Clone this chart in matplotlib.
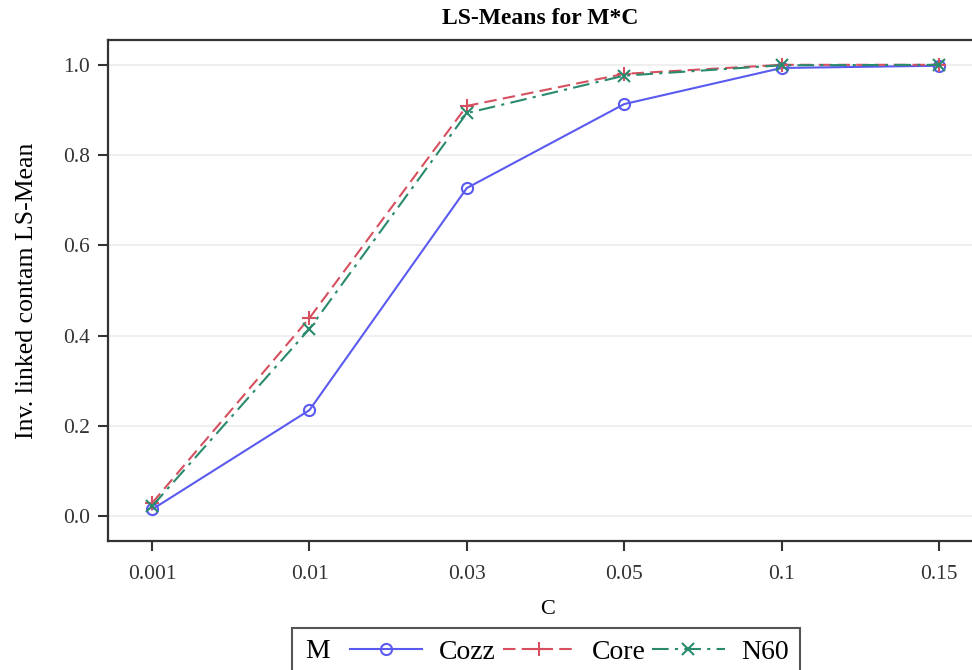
import numpy as np
import matplotlib.pyplot as plt
from matplotlib.lines import Line2D
from matplotlib.patches import Rectangle

plt.rcParams["font.family"] = ["Liberation Serif", "DejaVu Serif"]

c_labels = ["0.001", "0.01", "0.03", "0.05", "0.1", "0.15"]
cozz = [0.015, 0.235, 0.727, 0.913, 0.993, 0.998]
core = [0.029, 0.439, 0.909, 0.980, 1.000, 1.000]
n60 = [0.022, 0.415, 0.893, 0.976, 0.999, 1.000]
y_ticks = [0.0, 0.2, 0.4, 0.6, 0.8, 1.0]

fig = plt.figure(figsize=(9.72, 6.70), dpi=100)
ax = fig.add_axes([0.1111, 0.1925, 0.9035, 0.7478])

x = np.arange(len(c_labels))

ax.plot(x, cozz, color="#5a5af0", lw=1.5, marker="o", ms=8, mfc="none",
        mew=1.5, label="Cozz", zorder=3)
ax.plot(x, core, color="#d6505f", lw=1.5, ls=(0, (6, 3)), marker="+", ms=10,
        mew=1.5, label="Core", zorder=3)
ax.plot(x, n60, color="#2a8a6e", lw=1.5, ls=(0, (8, 3, 1.5, 3)), marker="x",
        ms=8, mew=1.5, label="N60", zorder=3)

ax.set_xlim(-0.28, 5.3)
ax.set_ylim(-0.055, 1.055)
ax.set_xticks(x)
ax.set_xticklabels(c_labels)
ax.set_yticks(y_ticks)
ax.set_yticklabels([f"{v:.1f}" for v in y_ticks])
for v in y_ticks:
    ax.axhline(v, color="#ececec", lw=1.2, zorder=0)

ax.tick_params(direction="out", length=7, width=1.5, labelsize=15.5, pad=6,
               colors="#333333")
ax.tick_params(axis="x", pad=10)
for s in ax.spines.values():
    s.set_linewidth(1.6)
    s.set_color("#333333")

ax.set_xlabel("C", fontsize=16, labelpad=12)
ax.set_ylabel("Inv. linked contam LS-Mean", fontsize=18.5, labelpad=18)
fig.text(540 / 972, 1 - 18 / 670, "LS-Means for M*C", ha="center", va="center",
         fontsize=17, fontweight="bold")

# legend box along the bottom edge
fig.patches.append(Rectangle((292 / 972, -0.02), 508 / 972, 0.082,
                             transform=fig.transFigure, fill=False,
                             ec="#555555", lw=1.5))
fig.text(305 / 972, 1 - 652 / 670, "M", fontsize=20, va="center")
handles = [
    Line2D([], [], color="#5a5af0", lw=1.5, marker="o", ms=8, mfc="none", mew=1.5),
    Line2D([], [], color="#d6505f", lw=1.5, ls=(0, (6, 3)), marker="+", ms=10, mew=1.5),
    Line2D([], [], color="#2a8a6e", lw=1.5, ls=(0, (8, 3, 1.5, 3)), marker="x", ms=8, mew=1.5),
]
fig.legend(handles, ["Cozz", "Core", "N60"], ncol=3, frameon=False,
           loc="center left", bbox_to_anchor=(350 / 972, 1 - 652 / 670),
           fontsize=20, handlelength=2.6, handletextpad=0.6, columnspacing=0.25,
           borderpad=0, borderaxespad=0)

fig.savefig("out.png", dpi=100)
